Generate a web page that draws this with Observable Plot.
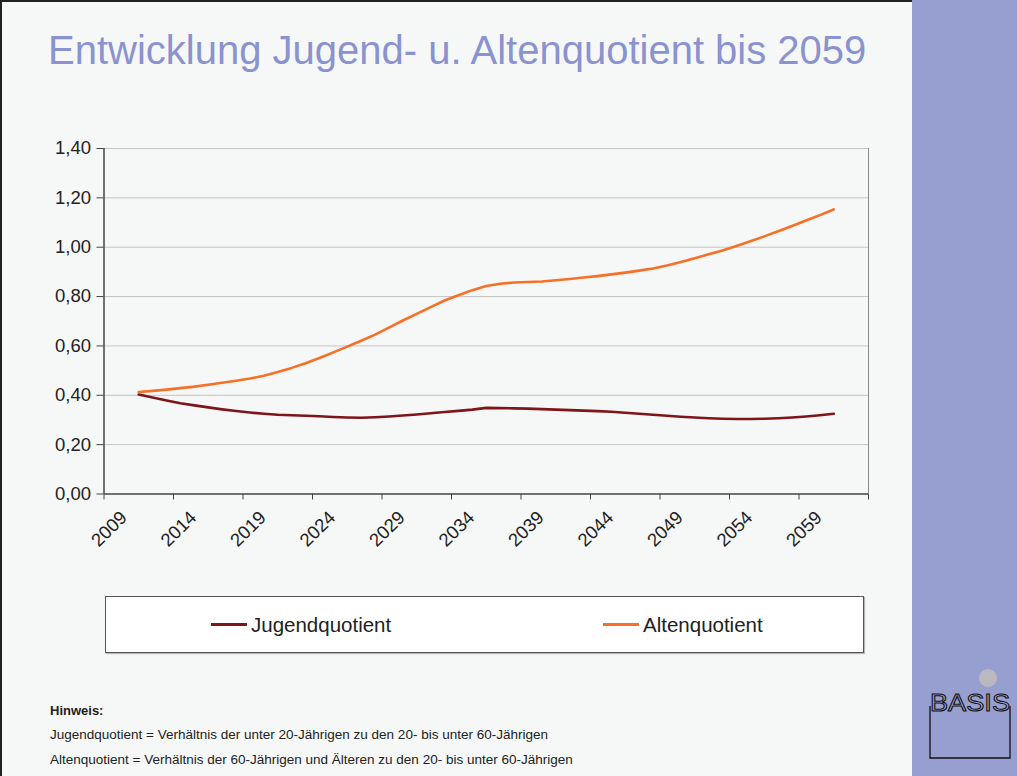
<!DOCTYPE html>
<html>
<head>
<meta charset="utf-8">
<script src="https://cdn.jsdelivr.net/npm/d3@7"></script>
<script src="https://cdn.jsdelivr.net/npm/@observablehq/plot@0.6"></script>
<style>
  html, body { margin: 0; padding: 0; background: #f6f8f7; }
  #page { position: relative; width: 1017px; height: 776px; overflow: hidden; background: #f6f8f7;
          font-family: "Liberation Sans", Arial, Helvetica, sans-serif; }
  #frameTop { position: absolute; left: 0; top: 0; width: 912px; height: 2px; background: #222; }
  #frameLeft { position: absolute; left: 0; top: 0; width: 2px; height: 776px; background: #222; }
  #panel { position: absolute; left: 912px; top: 0; width: 105px; height: 776px; background: #979fd0; }
  #title { position: absolute; left: 48px; top: 30px; font-size: 40px; line-height: 40px; color: #8a93cf; white-space: nowrap; }
  #chart { position: absolute; left: 0; top: 0; }
  #legend { position: absolute; left: 105px; top: 596px; width: 757px; height: 55px; background: #fff;
            border: 1px solid #555; box-shadow: 1px 1px 1px rgba(0,0,0,0.25); }
  .item { position: absolute; top: 0; height: 55px; display: flex; align-items: center; font-size: 20.5px; color: #222; }
  .swatch { display: inline-block; width: 36px; height: 3px; margin-right: 4px; }
  #notes { position: absolute; left: 50px; top: 0; color: #222; }
  .note { position: absolute; left: 0; white-space: nowrap; font-size: 13.5px; line-height: 16px; }
  #logo { position: absolute; left: 912px; top: 0; }
</style>
</head>
<body>
<div id="page">
  <div id="panel"></div>
  <div id="frameTop"></div>
  <div id="frameLeft"></div>
  <div id="title"></div>
  <div id="chart"></div>
  <div id="legend"></div>
  <div id="notes"></div>
  <svg id="logo" width="105" height="776" viewBox="912 0 105 776">
    <circle cx="988" cy="678" r="9" fill="#b9b9bf"></circle>
    <path d="M930,706 L930,758 L1010,758 L1010,706" fill="none" stroke="#111" stroke-width="1.3"></path>
    <text x="930" y="711" font-size="24" textLength="80" lengthAdjust="spacingAndGlyphs"
          font-family="Liberation Sans, Arial, sans-serif" fill="#979fd0" stroke="#111" stroke-width="1">BASIS</text>
  </svg>
</div>
<script>
// ---- data ----
const titleText = "Entwicklung Jugend- u. Altenquotient bis 2059";
const years = d3.range(2009, 2060);
const jugendquotient = [
  0.403, 0.391, 0.379, 0.368, 0.359, 0.351, 0.343, 0.336, 0.330, 0.325,
  0.321, 0.319, 0.317, 0.315, 0.312, 0.310, 0.309, 0.311, 0.314, 0.318,
  0.322, 0.327, 0.332, 0.337, 0.342, 0.349, 0.348, 0.347, 0.346, 0.344,
  0.342, 0.340, 0.338, 0.336, 0.333, 0.329, 0.325, 0.321, 0.317, 0.313,
  0.310, 0.307, 0.305, 0.304, 0.304, 0.305, 0.307, 0.310, 0.314, 0.319,
  0.325
];
const altenquotient = [
  0.413, 0.418, 0.423, 0.429, 0.435, 0.443, 0.451, 0.459, 0.468, 0.479,
  0.494, 0.511, 0.530, 0.551, 0.574, 0.597, 0.621, 0.646, 0.674, 0.703,
  0.730, 0.757, 0.784, 0.805, 0.826, 0.843, 0.852, 0.857, 0.859, 0.861,
  0.866, 0.871, 0.877, 0.883, 0.890, 0.897, 0.905, 0.914, 0.926, 0.940,
  0.955, 0.971, 0.987, 1.005, 1.024, 1.044, 1.065, 1.086, 1.108, 1.130,
  1.153
];
const seriesNames = ["Jugendquotient", "Altenquotient"];
const seriesColors = ["#7f1518", "#f86f26"];
const xLabelYears = [2009, 2014, 2019, 2024, 2029, 2034, 2039, 2044, 2049, 2054, 2059];
const yTicks = [0, 0.2, 0.4, 0.6, 0.8, 1.0, 1.2, 1.4];
const noteHeading = "Hinweis:";
const notes = [
  "Jugendquotient = Verhältnis der unter 20-Jährigen zu den 20- bis unter 60-Jährigen",
  "Altenquotient = Verhältnis der 60-Jährigen und Älteren zu den 20- bis unter 60-Jährigen"
];

// ---- derived tables ----
const rows = [];
years.forEach((yr, i) => {
  rows.push({year: yr, value: jugendquotient[i], series: seriesNames[0]});
  rows.push({year: yr, value: altenquotient[i], series: seriesNames[1]});
});
// category boundaries (tick marks sit between categories)
const xTickMarks = [xLabelYears[0] - 2.5, ...xLabelYears.map(y => y + 2.5)];
const xDomain = [xTickMarks[0], xTickMarks[xTickMarks.length - 1]];
const fmt = v => v.toFixed(2).replace(".", ",");

document.getElementById("title").textContent = titleText;

const W = 912, H = 570;
const chart = Plot.plot({
  width: W,
  height: H,
  marginLeft: 103.5,
  marginRight: 44,
  marginTop: 148,
  marginBottom: H - 493.5,
  style: {background: "transparent", fontFamily: "Liberation Sans, Arial, Helvetica, sans-serif", overflow: "visible"},
  x: {domain: xDomain, axis: null, label: null},
  y: {domain: [0, 1.4], axis: null, label: null},
  color: {domain: seriesNames, range: seriesColors},
  marks: [
    Plot.ruleY(yTicks.filter(d => d > 0), {stroke: "#c4c4c4", strokeWidth: 1}),
    Plot.ruleX([xDomain[1]], {stroke: "#8a8a8a", strokeWidth: 1}),
    Plot.axisY({ticks: yTicks, tickFormat: fmt, tickSize: 7, tickPadding: 6, fontSize: 18.5, color: "#222", stroke: "#444", label: null}),
    Plot.axisX({ticks: xTickMarks, tickFormat: () => "", tickSize: 6, stroke: "#444", label: null}),
    Plot.ruleX([xDomain[0]], {stroke: "#444", strokeWidth: 1.5}),
    Plot.ruleY([0], {stroke: "#444", strokeWidth: 1.5}),
    Plot.text(xLabelYears, {x: d => d, text: d => String(d), frameAnchor: "bottom", rotate: -45,
      textAnchor: "end", lineAnchor: "middle", dx: -15, dy: 20.5, fontSize: 18.5, fill: "#222"}),
    Plot.line(rows, {x: "year", y: "value", z: "series", stroke: "series", strokeWidth: 2.6, strokeLinejoin: "round"})
  ]
});
document.getElementById("chart").appendChild(chart);

// legend
const legend = document.getElementById("legend");
const legendX = [105, 497];
seriesNames.forEach((name, i) => {
  const item = document.createElement("div");
  item.className = "item";
  item.style.left = legendX[i] + "px";
  const sw = document.createElement("span");
  sw.className = "swatch";
  sw.style.background = seriesColors[i];
  const tx = document.createElement("span");
  tx.textContent = name;
  item.appendChild(sw);
  item.appendChild(tx);
  legend.appendChild(item);
});

// notes
const notesEl = document.getElementById("notes");
const h = document.createElement("div");
h.className = "note";
h.style.top = "703px";
h.style.fontWeight = "bold";
h.style.fontSize = "13px";
h.textContent = noteHeading;
notesEl.appendChild(h);
notes.forEach((t, i) => {
  const d = document.createElement("div");
  d.className = "note";
  d.style.top = (727 + i * 25) + "px";
  d.textContent = t;
  notesEl.appendChild(d);
});
</script>
</body>
</html>
